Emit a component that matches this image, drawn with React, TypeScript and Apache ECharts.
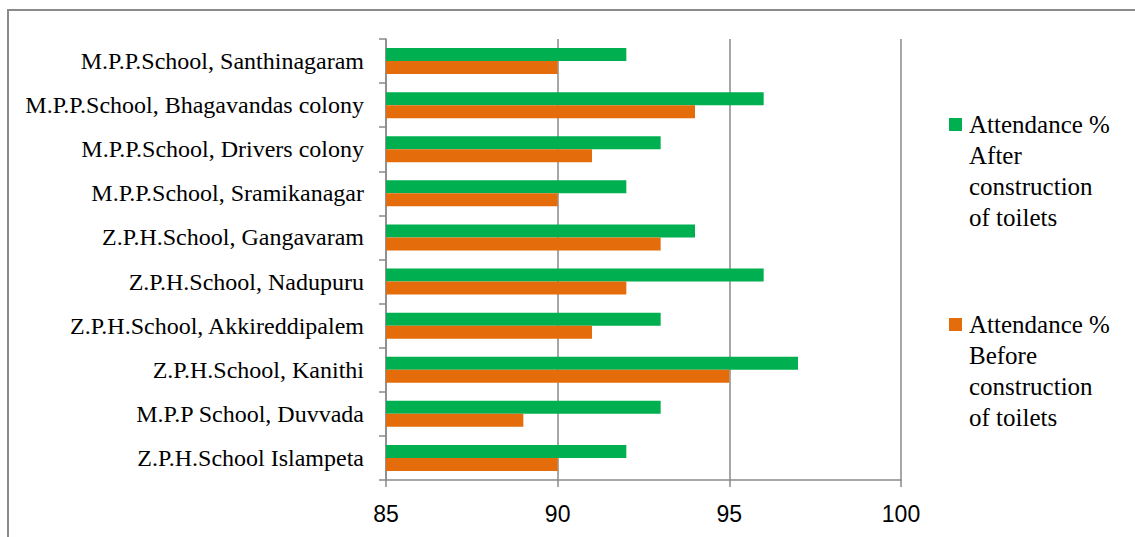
import React, { useEffect, useRef } from "react";
import * as echarts from "echarts";

const schools: string[] = [
  "Z.P.H.School Islampeta",
  "M.P.P School, Duvvada",
  "Z.P.H.School, Kanithi",
  "Z.P.H.School, Akkireddipalem",
  "Z.P.H.School, Nadupuru",
  "Z.P.H.School, Gangavaram",
  "M.P.P.School, Sramikanagar",
  "M.P.P.School, Drivers colony",
  "M.P.P.School, Bhagavandas colony",
  "M.P.P.School, Santhinagaram",
];

const afterValues: number[] = [92, 93, 97, 93, 96, 94, 92, 93, 96, 92];
const beforeValues: number[] = [90, 89, 95, 91, 92, 93, 90, 91, 94, 90];

const afterName = "Attendance % After construction of toilets";
const beforeName = "Attendance % Before construction of toilets";

const legendLines: Record<string, string> = {
  [afterName]: "Attendance %\nAfter\nconstruction\nof toilets",
  [beforeName]: "Attendance %\nBefore\nconstruction\nof toilets",
};

const xMin = 85;
const xMax = 100;
const xStep = 5;

const serif = "'Liberation Serif', 'Times New Roman', Times, serif";

export default function App() {
  const ref = useRef<HTMLDivElement>(null);
  useEffect(() => {
    if (!ref.current) return;
    const chart = echarts.init(ref.current, undefined, { renderer: "svg" });
    const gray = "#8a8a8a";
    chart.setOption({
      animation: false,
      backgroundColor: "#ffffff",
      graphic: [
        {
          type: "rect",
          shape: { x: 8, y: 10, width: 1300, height: 700 },
          style: { fill: "none", stroke: gray, lineWidth: 2 },
          silent: true,
        },
      ],
      grid: { left: 386, right: 234, top: 39, bottom: 57 },
      legend: {
        orient: "vertical",
        left: 944,
        top: 104,
        itemWidth: 13,
        itemHeight: 124,
        itemGap: 76,
        icon: "path://M0,9 L13,9 L13,22 L0,22 Z M0,0 L0.01,0 M0,124 L0.01,124",
        data: [afterName, beforeName],
        formatter: (n: string) => legendLines[n] || n,
        textStyle: {
          fontFamily: serif,
          fontSize: 25,
          lineHeight: 31,
          color: "#000",
          padding: [0, 0, 0, 2],
        },
        itemStyle: { borderWidth: 0 },
      },
      xAxis: {
        type: "value",
        min: xMin,
        max: xMax,
        interval: xStep,
        axisLine: { show: true, lineStyle: { color: gray, width: 1.5 } },
        axisTick: { show: true, length: 7, lineStyle: { color: gray, width: 1.5 } },
        splitLine: { show: true, lineStyle: { color: gray, width: 1.5 } },
        axisLabel: {
          color: "#000",
          fontFamily: "'Liberation Sans', Arial, sans-serif",
          fontSize: 23,
          margin: 22,
        },
      },
      yAxis: {
        type: "category",
        data: schools,
        axisLine: { show: true, lineStyle: { color: gray, width: 1.5 } },
        axisTick: { show: true, length: 7, lineStyle: { color: gray, width: 1.5 } },
        axisLabel: {
          color: "#000",
          fontFamily: serif,
          fontSize: 24,
          margin: 22,
        },
      },
      series: [
        {
          name: afterName,
          type: "bar",
          data: afterValues,
          barWidth: 13,
          barGap: "0%",
          itemStyle: { color: "#00B050" },
        },
        {
          name: beforeName,
          type: "bar",
          data: beforeValues,
          barWidth: 13,
          barGap: "0%",
          itemStyle: { color: "#E46C0A" },
        },
      ],
    });
    return () => chart.dispose();
  }, []);
  return (
    <div
      ref={ref}
      style={{ position: "absolute", left: 0, top: 0, width: 1135, height: 537 }}
    />
  );
}
